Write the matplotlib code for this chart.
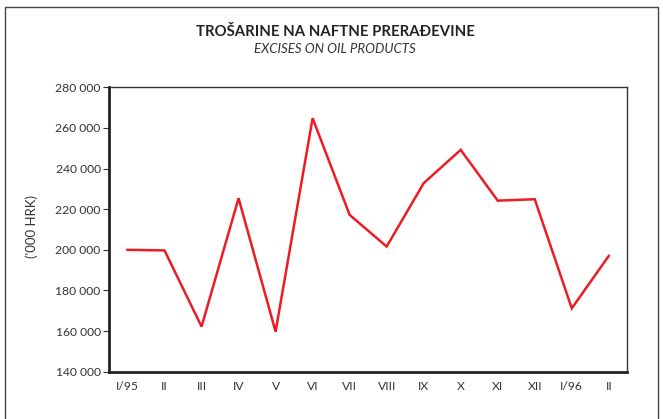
import matplotlib
matplotlib.use("Agg")
import matplotlib.pyplot as plt
from matplotlib.patches import Rectangle

months = ["I/95", "II", "III", "IV", "V", "VI", "VII", "VIII", "IX", "X", "XI", "XII", "I/96", "II"]
excises = [200000, 199700, 162200, 225400, 159700, 264800, 217200, 201600,
           232800, 249200, 224200, 224900, 171200, 197000]
yticks = [140000, 160000, 180000, 200000, 220000, 240000, 260000, 280000]
ytick_labels = ["140 000", "160 000", "180 000", "200 000", "220 000", "240 000", "260 000", "280 000"]

plt.rcParams['font.family'] = ['Lato', 'DejaVu Sans']

W, H = 663, 419
fig = plt.figure(figsize=(W / 100, H / 100), dpi=100)

# outer frame
fig.patches.append(Rectangle((5 / W, -0.1), 653 / W, 1.1 - 6.7 / H, transform=fig.transFigure,
                             fill=False, edgecolor="#444444", linewidth=1.0))

fig.text(335 / W, 1 - 32 / H, "TROŠARINE NA NAFTNE PRERAĐEVINE", ha="center", va="center",
         fontsize=10.7, fontweight="bold", color="#222222")
fig.text(335 / W, 1 - 49 / H, "EXCISES ON OIL PRODUCTS", ha="center", va="center",
         fontsize=9.5, fontstyle="italic", color="#333333")

ax = fig.add_axes([109 / W, 1 - 371.7 / H, (627.3 - 109) / W, (371.7 - 87.3) / H])
x = list(range(len(months)))
ax.plot(x, excises, color="#ed1c24", linewidth=1.8, solid_joinstyle="miter")

ax.set_xlim(-0.5, len(months) - 0.5)
ax.set_ylim(140000, 280000)
ax.set_yticks(yticks)
ax.set_yticklabels(ytick_labels)
ax.set_xticks(x)
ax.set_xticklabels(months)
ax.tick_params(axis="y", direction="out", length=4, width=0.8, color="#333333",
               labelsize=8.7, labelcolor="#333333", pad=2)
ax.tick_params(axis="x", length=0, labelsize=8.7, labelcolor="#333333", pad=7)

for side in ["left", "bottom"]:
    ax.spines[side].set_linewidth(2.0)
    ax.spines[side].set_color("#222222")
for side in ["top", "right"]:
    ax.spines[side].set_linewidth(1.0)
    ax.spines[side].set_color("#333333")

fig.text(32 / W, 1 - 226 / H, "('000 HRK)", rotation=90, ha="center", va="center",
         fontsize=9.5, color="#333333")

fig.savefig("out.png", dpi=100)
